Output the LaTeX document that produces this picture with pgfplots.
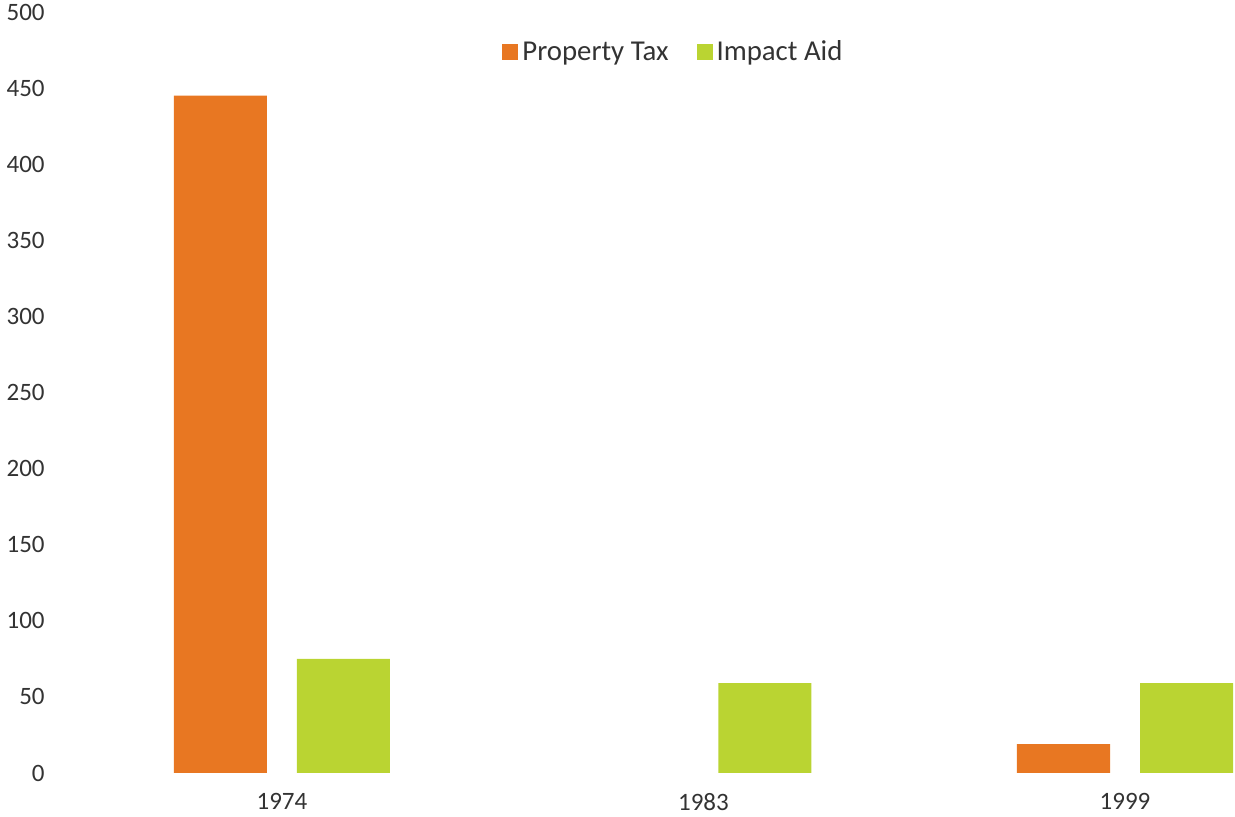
\documentclass[border=0pt]{standalone}
\usepackage{fontspec}
\setmainfont{Carlito}
\usepackage{pgfplots}
\pgfplotsset{compat=1.18}

\definecolor{taxorange}{RGB}{232,119,34}
\definecolor{aidgreen}{RGB}{186,212,50}

\begin{document}
\begin{tikzpicture}
    \begin{axis}[
        scale only axis,
        width=581.5pt,
        height=380.5pt,
        ybar=15pt,
        bar width=46.5pt,
        xmin=-0.498, xmax=2.261,
        ymin=0, ymax=500,
        xtick={0,1,2},
        xticklabels={1974,1983,1999},
        ytick={0,50,...,500},
        axis line style={draw=none},
        major tick length=0pt,
        tick style={draw=none},
        /pgf/number format/assume math mode=true,
        ticklabel style={font=\fontsize{12.5}{15}\selectfont, text=black!80},
        yticklabel style={anchor=east, inner sep=0pt, xshift=-13.5pt},
        xticklabel style={anchor=north, inner sep=0pt, yshift=-10pt},
        legend columns=2,
        legend style={
            at={(0.518,0.947)}, anchor=center, draw=none, fill=none,
            font=\fontsize{14.4}{17}\selectfont, text=black!80,
            /tikz/every even column/.append style={column sep=12pt},
        },
        legend image code/.code={\fill[#1] (0pt,-4pt) rectangle (8pt,4pt);},
        unbounded coords=discard,
    ]
    % Property Tax (1983 is zero: no bar is drawn)
    \addplot[fill=taxorange, draw=none] coordinates {
        (0, 445)
        (1, nan)
        (2, 19)
    };
    \addlegendentry{Property Tax}
    % Impact Aid
    \addplot[fill=aidgreen, draw=none] coordinates {
        (0, 75)
        (1, 59)
        (2, 59)
    };
    \addlegendentry{Impact Aid}
    \end{axis}
    \pgfresetboundingbox
    \path[use as bounding box] (-36pt,-22pt) rectangle (581.5pt,386.5pt);
\end{tikzpicture}
\end{document}
